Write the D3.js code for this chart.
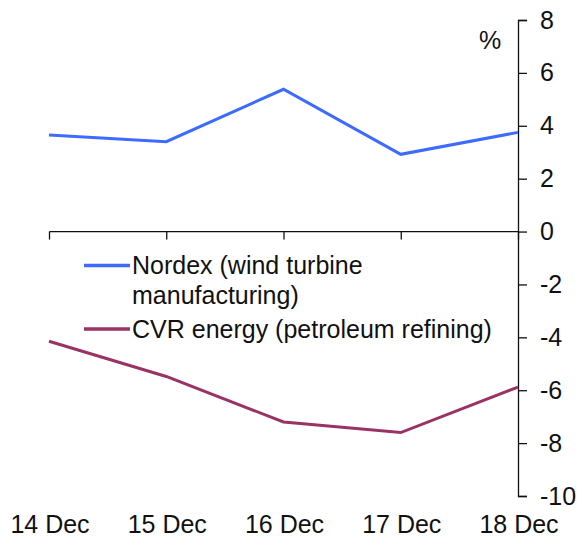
<!DOCTYPE html>
<html>
<head>
<meta charset="utf-8">
<script src="https://cdn.jsdelivr.net/npm/d3@7"></script>
<style>
  body { margin: 0; background: #fff; }
  text { font-family: Arial, "Liberation Sans", sans-serif; fill: #111; }
</style>
</head>
<body>
<svg id="chart"></svg>
<script>
// chart data
var days = ["14 Dec", "15 Dec", "16 Dec", "17 Dec", "18 Dec"];
var nordex = [3.65, 3.4, 5.38, 2.92, 3.75];
var cvr = [-4.15, -5.48, -7.2, -7.6, -5.88];
var yTicks = [8, 6, 4, 2, 0, -2, -4, -6, -8, -10];
var seriesNames = ["Nordex (wind turbine", "manufacturing)", "CVR energy (petroleum refining)"];

var svgwidth = 577, svgheight = 537;
var margin = {top: 20, left: 49, right: 59, bottom: 41};
var width = svgwidth - margin.left - margin.right;
var height = svgheight - margin.top - margin.bottom;
var fontSize = 25;

var svg = d3.select("#chart")
    .attr("width", svgwidth)
    .attr("height", svgheight)
  .append("g")
    .attr("transform", "translate(" + margin.left + "," + margin.top + ")");

// scales
var xScale = d3.scalePoint().domain(days).range([0, width]);
var yScale = d3.scaleLinear().domain([-10, 8]).range([height, 0]);

// y axis on the right, plain hyphen for negatives
var yAxis = d3.axisRight(yScale).tickValues(yTicks).tickSize(9).tickPadding(13)
    .tickFormat(function(d){ return String(d); });
var yg = svg.append("g")
    .attr("transform", "translate(" + width + ",0)")
    .call(yAxis);
yg.select(".domain").attr("d", "M9,0.5H0.5V" + (height + 0.5) + "H9").attr("stroke", "#111").attr("stroke-width", 1.3);
yg.selectAll(".tick line").attr("stroke", "#111").attr("stroke-width", 1.3);
yg.selectAll(".tick text").attr("font-size", fontSize).attr("fill", "#111");

// x axis along zero line
var xAxis = d3.axisBottom(xScale).tickSize(8).tickFormat("");
var xg = svg.append("g")
    .attr("transform", "translate(0," + yScale(0) + ")")
    .call(xAxis);
xg.select(".domain").attr("d", "M0.5,0H" + width).attr("stroke", "#111").attr("stroke-width", 1.3);
xg.selectAll(".tick line").attr("stroke", "#111").attr("stroke-width", 1.3);

// category labels at the bottom
svg.selectAll(".cat")
    .data(days)
  .enter().append("text")
    .attr("class", "cat")
    .attr("x", function(d){ return xScale(d) + 1; })
    .attr("y", height + 37)
    .attr("text-anchor", "middle")
    .attr("font-size", fontSize)
    .text(function(d){ return d; });

// unit label
svg.append("text")
    .attr("x", width - 28)
    .attr("y", 29)
    .attr("text-anchor", "middle")
    .attr("font-size", fontSize)
    .text("%");

// lines
var line = d3.line()
    .x(function(d, i){ return xScale(days[i]); })
    .y(function(d){ return yScale(d); });

svg.append("path")
    .datum(nordex)
    .attr("fill", "none")
    .attr("stroke", "#3d6bff")
    .attr("stroke-width", 3)
    .attr("d", line);

svg.append("path")
    .datum(cvr)
    .attr("fill", "none")
    .attr("stroke", "#993366")
    .attr("stroke-width", 3)
    .attr("d", line);

// legend
var legend = svg.append("g").attr("transform", "translate(35,245.5)");
legend.append("line").attr("x1", 0).attr("x2", 46).attr("y1", 0).attr("y2", 0)
    .attr("stroke", "#3d6bff").attr("stroke-width", 3.5);
legend.append("text").attr("x", 48).attr("y", 8.5).attr("font-size", fontSize).text(seriesNames[0]);
legend.append("text").attr("x", 48).attr("y", 38).attr("font-size", fontSize).text(seriesNames[1]);
legend.append("line").attr("x1", 0).attr("x2", 46).attr("y1", 63.5).attr("y2", 63.5)
    .attr("stroke", "#993366").attr("stroke-width", 3.5);
legend.append("text").attr("x", 48).attr("y", 72).attr("font-size", fontSize).text(seriesNames[2]);
</script>
</body>
</html>
